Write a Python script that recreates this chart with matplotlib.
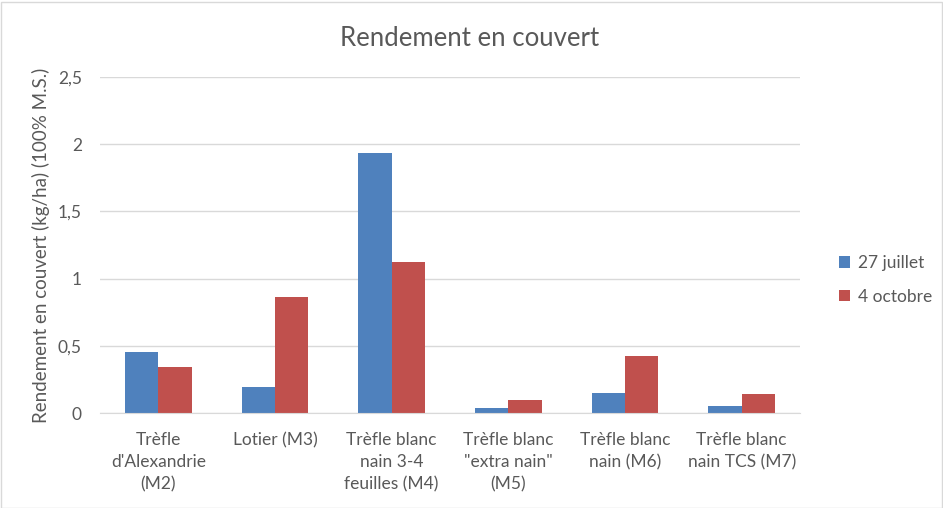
import matplotlib.pyplot as plt
import numpy as np
from matplotlib.patches import Rectangle

plt.rcParams['font.family'] = ['Lato', 'DejaVu Sans']

categories = ["Trèfle\nd'Alexandrie\n(M2)", "Lotier (M3)", "Trèfle blanc\nnain 3-4\nfeuilles (M4)",
              "Trèfle blanc\n\"extra nain\"\n(M5)", "Trèfle blanc\nnain (M6)", "Trèfle blanc\nnain TCS (M7)"]
juillet = [0.453, 0.192, 1.938, 0.035, 0.147, 0.05]
octobre = [0.341, 0.866, 1.124, 0.095, 0.423, 0.14]
yticks = [0, 0.5, 1, 1.5, 2, 2.5]
ytick_labels = ["0", "0,5", "1", "1,5", "2", "2,5"]

grey = "#595959"
blue = "#4F81BD"
red = "#C0504D"

fig = plt.figure(figsize=(9.43, 5.08), dpi=100)
ax = fig.add_axes([100 / 943, 1 - 413 / 508, 700 / 943, 336 / 508])

x = np.arange(len(categories))
w = 0.285
ax.bar(x - w / 2, juillet, w, color=blue, label="27 juillet")
ax.bar(x + w / 2, octobre, w, color=red, label="4 octobre")

ax.set_xlim(-0.5, len(categories) - 0.5)
ax.set_ylim(0, 2.5)
ax.set_yticks(yticks)
ax.set_yticklabels(ytick_labels)
ax.set_xticks(x)
ax.set_xticklabels(categories, linespacing=1.45, va='top')
ax.tick_params(axis='both', length=0, colors=grey, labelsize=12.5)
ax.tick_params(axis='x', pad=14)
ax.tick_params(axis='y', pad=13)
ax.grid(axis='y', color="#D9D9D9", linewidth=1)
ax.set_axisbelow(True)
for s in ['top', 'right', 'left']:
    ax.spines[s].set_visible(False)
ax.spines['bottom'].set_color("#D9D9D9")

ax.set_ylabel("Rendement en couvert (kg/ha) (100% M.S.)", color=grey, fontsize=13.5)
ax.yaxis.set_label_coords(-0.072, 0.5)
fig.text(470 / 943, 1 - 38 / 508, "Rendement en couvert", ha='center', va='center', color=grey, fontsize=18.5)

ax.legend(loc='center left', bbox_to_anchor=(823 / 943, 1 - 280 / 508), bbox_transform=fig.transFigure,
          frameon=False, fontsize=12.5, labelcolor=grey, handlelength=0.65, handleheight=0.65,
          handletextpad=0.45, labelspacing=1.0)

fig.patches.append(Rectangle((0.5 / 943, 0.5 / 508), 941 / 943, 506 / 508, transform=fig.transFigure,
                             fill=False, edgecolor="#D9D9D9", linewidth=1))

fig.savefig("out.png", dpi=100)
